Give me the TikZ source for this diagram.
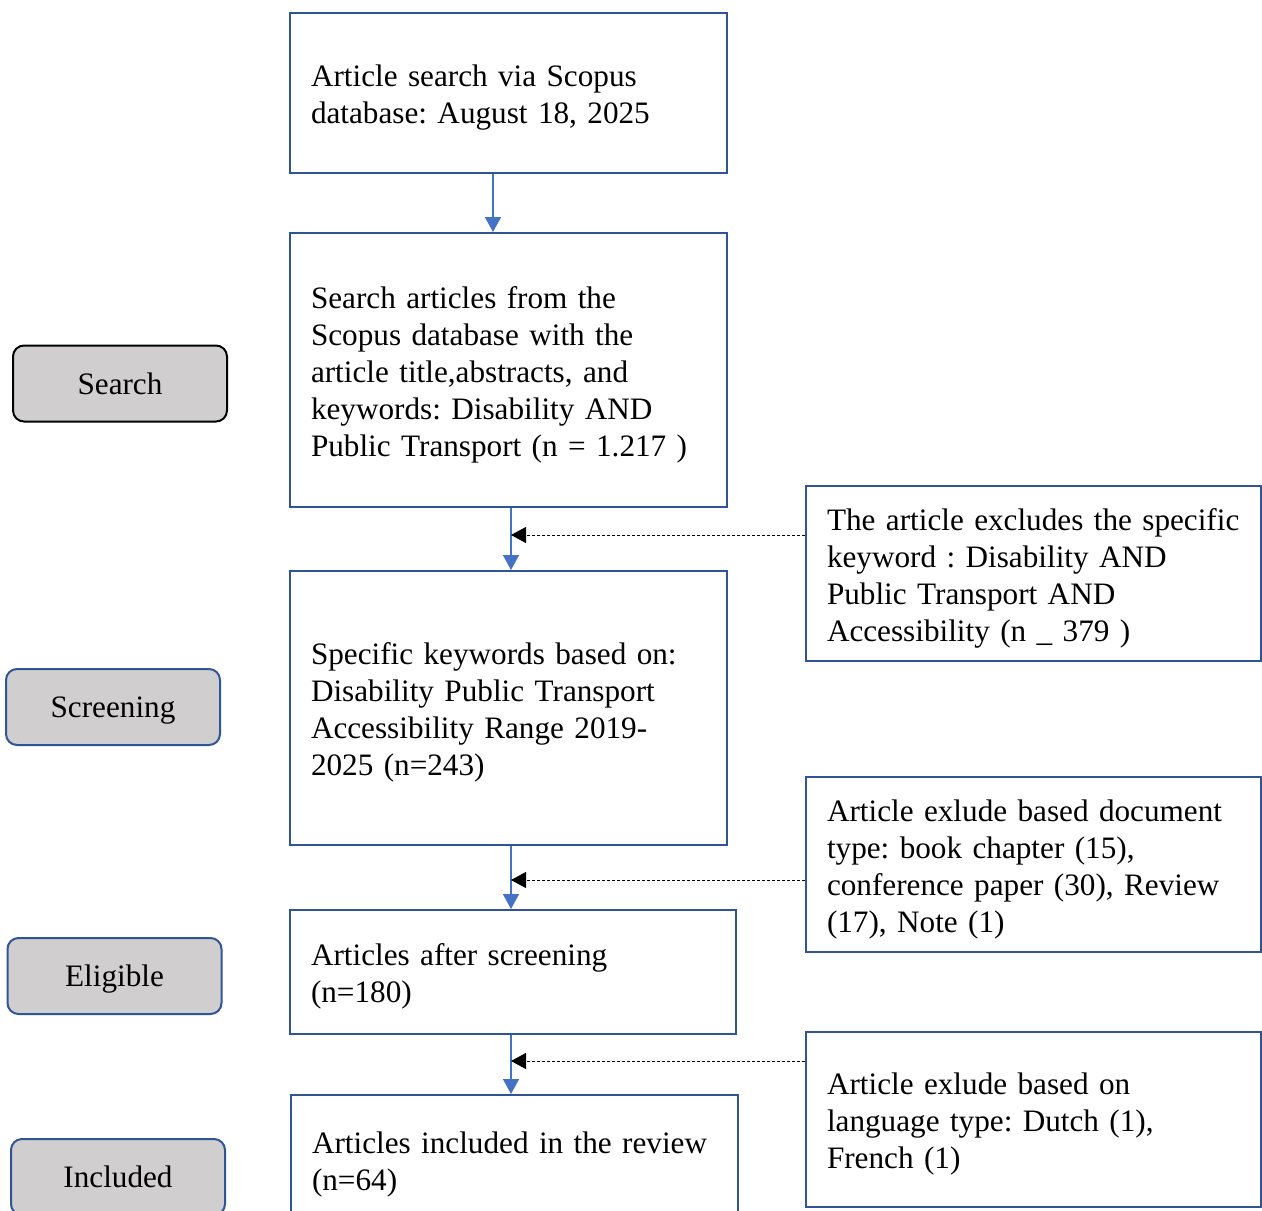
\documentclass[tikz,border=0pt]{standalone}
\usepackage{fontspec}
\setmainfont{Liberation Serif}
\usetikzlibrary{arrows.meta}
\definecolor{boxblue}{HTML}{2F5597}
\definecolor{arrblue}{HTML}{4472C4}
\definecolor{stagegray}{HTML}{D0CECE}
\frenchspacing
\hyphenpenalty=10000
\exhyphenpenalty=10000
\hbadness=10000
\hfuzz=50pt
\newcommand{\toppad}{\rule{0pt}{31pt}}
\tikzset{
  mainbox/.style={draw=boxblue, line width=2pt, rectangle, align=left, inner xsep=21pt, inner ysep=0pt,
    font=\fontsize{31.2}{37}\selectfont},
  stagebox/.style={draw=boxblue, line width=2pt, fill=stagegray, rounded corners=11pt, minimum width=214pt,
    minimum height=76pt, inner sep=0pt, text height=21pt, text depth=0pt, font=\fontsize{31.2}{37}\selectfont},
  flow/.style={draw=arrblue, line width=1.5pt, -{Triangle[width=16pt,length=15pt]}, color=arrblue},
  dashflow/.style={draw=black, line width=0.8pt, dash pattern=on 3pt off 2pt, -{Triangle[width=16pt,length=15pt]}}
}
\begin{document}
\begin{tikzpicture}[x=1pt,y=-1pt]
\useasboundingbox[fill=white] (0,0) rectangle (1262,1211);
% main column
\node[mainbox, text width=395pt, minimum height=160pt] (b1) at (508.5,93)
  {\toppad Article search via Scopus\\database: August 18, 2025};
\node[mainbox, text width=395pt, minimum height=274pt] (b2) at (508.5,370)
  {\toppad Search articles from the\\Scopus database with the\\article title,abstracts, and\\keywords: Disability AND\\Public Transport (n = 1.217 )};
\node[mainbox, text width=395pt, minimum height=274pt] (b3) at (508.5,708)
  {\toppad Specific keywords based on:\\Disability Public Transport\\Accessibility Range 2019-\\2025 (n=243)};
\node[mainbox, text width=404pt, minimum height=124pt] (b4) at (513,972)
  {\toppad Articles after screening\\(n=180)};
\node[mainbox, text width=405pt, minimum height=130pt] (b5) at (514.5,1160)
  {\toppad Articles included in the review\\(n=64)};
% right column
\node[mainbox, text width=413pt, minimum height=175pt] (rA) at (1033.5,573.5)
  {\toppad The article excludes the specific\\keyword : Disability AND\\Public Transport AND\\Accessibility (n \_ 379 )};
\node[mainbox, text width=413pt, minimum height=175pt] (rB) at (1033.5,864.5)
  {\toppad Article exlude based document\\type: book chapter (15),\\conference paper (30), Review\\(17), Note (1)};
\node[mainbox, text width=413pt, minimum height=175pt] (rC) at (1033.5,1119.5)
  {\toppad Article exlude based on\\language type: Dutch (1),\\French (1)};
% stage labels
\node[stagebox, draw=black] (s1) at (120,383.5) {Search};
\node[stagebox] (s2) at (113,707) {Screening};
\node[stagebox] (s3) at (114.5,976) {Eligible};
\node[stagebox] (s4) at (118,1177) {Included};
% connectors
\coordinate (a1) at (493,0);
\coordinate (ax) at (511,0);
\draw[flow] (b1.south -| a1) -- (b2.north -| a1);
\draw[flow] (b2.south -| ax) -- (b3.north -| ax);
\draw[flow] (b3.south -| ax) -- (b4.north -| ax);
\draw[flow] (b4.south -| ax) -- (b5.north -| ax);
\coordinate (dA) at (511,535);
\coordinate (dB) at (511,880);
\coordinate (dC) at (511,1061);
\draw[dashflow] (rA.west |- dA) -- (dA);
\draw[dashflow] (rB.west |- dB) -- (dB);
\draw[dashflow] (rC.west |- dC) -- (dC);
\end{tikzpicture}
\end{document}
